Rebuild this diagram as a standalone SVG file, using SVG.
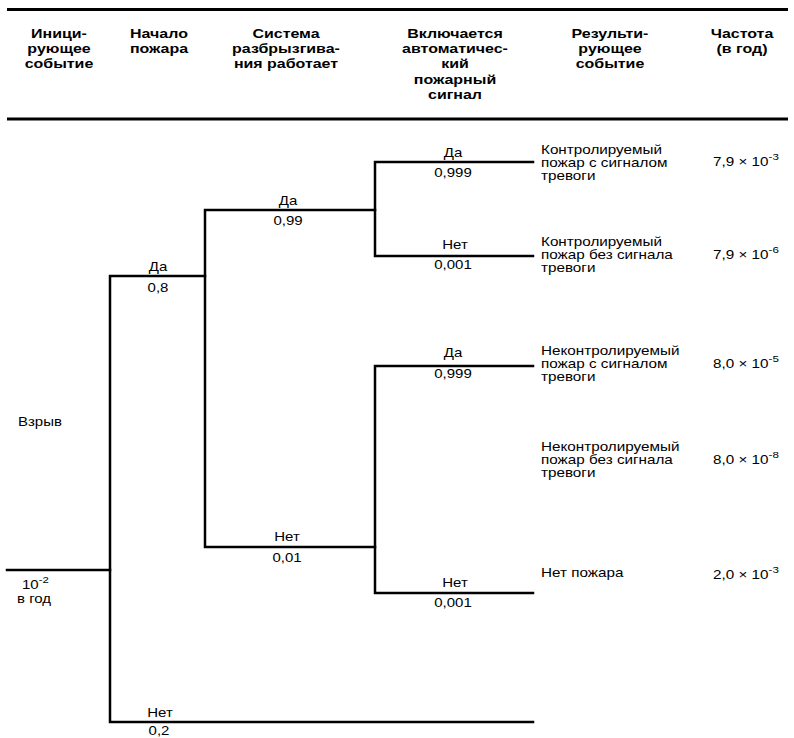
<svg xmlns="http://www.w3.org/2000/svg" width="794" height="738" viewBox="0 0 794 738">
  <style>
    text { font-family: "Liberation Sans", Arial, sans-serif; fill: #000; }
    .h { font-size: 13.3px; font-weight: bold; text-anchor: middle; }
    .t { font-size: 12.5px; }
    .m { text-anchor: middle; }
    .sup { font-size: 9.5px; }
    .rule { stroke: #000; stroke-width: 3; fill: none; }
    .edge { stroke: #000; stroke-width: 2.5; fill: none; stroke-linecap: square; }
  </style>

  <!-- header rules -->
  <g id="header-rules">
    <line class="rule" x1="7" y1="9.5" x2="788" y2="9.5"/>
    <line class="rule" x1="7" y1="119" x2="788" y2="119"/>
  </g>

  <!-- column headings -->
  <g id="headings">
    <text class="h" transform="translate(59 37.5) scale(1.2 1)"><tspan x="0" y="0">Иници-</tspan><tspan x="0" dy="15.5">рующее</tspan><tspan x="0" dy="15.5">событие</tspan></text>
    <text class="h" transform="translate(159 37.5) scale(1.2 1)"><tspan x="0" y="0">Начало</tspan><tspan x="0" dy="15.5">пожара</tspan></text>
    <text class="h" transform="translate(286 37.5) scale(1.2 1)"><tspan x="0" y="0">Система</tspan><tspan x="0" dy="15.5">разбрызгива-</tspan><tspan x="0" dy="15.5">ния работает</tspan></text>
    <text class="h" transform="translate(455 37.5) scale(1.2 1)"><tspan x="0" y="0">Включается</tspan><tspan x="0" dy="15.5">автоматичес-</tspan><tspan x="0" dy="15.5">кий</tspan><tspan x="0" dy="15.5">пожарный</tspan><tspan x="0" dy="15.5">сигнал</tspan></text>
    <text class="h" transform="translate(610 37.5) scale(1.2 1)"><tspan x="0" y="0">Результи-</tspan><tspan x="0" dy="15.5">рующее</tspan><tspan x="0" dy="15.5">событие</tspan></text>
    <text class="h" transform="translate(742 37.5) scale(1.2 1)"><tspan x="0" y="0">Частота</tspan><tspan x="0" dy="15.5">(в год)</tspan></text>
  </g>

  <!-- tree branches -->
  <g id="connectors">
    <path class="edge" d="M7 570 H110"/>
    <path class="edge" d="M205 276 H110 V722 H533"/>
    <path class="edge" d="M375 210 H205 V547 H375"/>
    <path class="edge" d="M533 162 H375 V256 H533"/>
    <path class="edge" d="M533 366 H375 V593 H533"/>
  </g>

  <!-- initiating event -->
  <g id="initiator">
    <text class="t" transform="translate(18 426) scale(1.2 1)">Взрыв</text>
    <text class="t" transform="translate(22 589) scale(1.2 1)">10<tspan class="sup" dy="-6">-2</tspan></text>
    <text class="t" transform="translate(17 603) scale(1.2 1)">в год</text>
  </g>

  <!-- branch probabilities -->
  <g id="fire-yes">
    <text class="t m" transform="translate(158 271) scale(1.2 1)">Да</text>
    <text class="t m" transform="translate(158 292) scale(1.2 1)">0,8</text>
  </g>
  <g id="fire-no">
    <text class="t m" transform="translate(160 717) scale(1.2 1)">Нет</text>
    <text class="t m" transform="translate(159 735) scale(1.2 1)">0,2</text>
  </g>
  <g id="sprinkler-yes">
    <text class="t m" transform="translate(288 205) scale(1.2 1)">Да</text>
    <text class="t m" transform="translate(288 225) scale(1.2 1)">0,99</text>
  </g>
  <g id="sprinkler-no">
    <text class="t m" transform="translate(287 541) scale(1.2 1)">Нет</text>
    <text class="t m" transform="translate(287 562) scale(1.2 1)">0,01</text>
  </g>
  <g id="alarm-1-yes">
    <text class="t m" transform="translate(453 157) scale(1.2 1)">Да</text>
    <text class="t m" transform="translate(453 177) scale(1.2 1)">0,999</text>
  </g>
  <g id="alarm-1-no">
    <text class="t m" transform="translate(455 249) scale(1.2 1)">Нет</text>
    <text class="t m" transform="translate(453 269) scale(1.2 1)">0,001</text>
  </g>
  <g id="alarm-2-yes">
    <text class="t m" transform="translate(453 357) scale(1.2 1)">Да</text>
    <text class="t m" transform="translate(453 378) scale(1.2 1)">0,999</text>
  </g>
  <g id="alarm-2-no">
    <text class="t m" transform="translate(455 587) scale(1.2 1)">Нет</text>
    <text class="t m" transform="translate(453 607) scale(1.2 1)">0,001</text>
  </g>

  <!-- outcomes -->
  <g id="outcome-1">
    <text class="t" transform="translate(541 154) scale(1.22 1)"><tspan x="0" y="0">Контролируемый</tspan><tspan x="0" dy="13">пожар с сигналом</tspan><tspan x="0" dy="13">тревоги</tspan></text>
  </g>
  <g id="outcome-2">
    <text class="t" transform="translate(541 246) scale(1.22 1)"><tspan x="0" y="0">Контролируемый</tspan><tspan x="0" dy="13">пожар без сигнала</tspan><tspan x="0" dy="13">тревоги</tspan></text>
  </g>
  <g id="outcome-3">
    <text class="t" transform="translate(541 355) scale(1.22 1)"><tspan x="0" y="0">Неконтролируемый</tspan><tspan x="0" dy="13">пожар с сигналом</tspan><tspan x="0" dy="13">тревоги</tspan></text>
  </g>
  <g id="outcome-4">
    <text class="t" transform="translate(541 451) scale(1.22 1)"><tspan x="0" y="0">Неконтролируемый</tspan><tspan x="0" dy="13">пожар без сигнала</tspan><tspan x="0" dy="13">тревоги</tspan></text>
  </g>
  <g id="outcome-5">
    <text class="t" transform="translate(541 577) scale(1.22 1)">Нет пожара</text>
  </g>

  <!-- frequencies -->
  <g id="frequencies">
    <text class="t" transform="translate(713 166) scale(1.22 1)">7,9 × 10<tspan class="sup" dy="-6">-3</tspan></text>
    <text class="t" transform="translate(713 259) scale(1.22 1)">7,9 × 10<tspan class="sup" dy="-6">-6</tspan></text>
    <text class="t" transform="translate(713 368) scale(1.22 1)">8,0 × 10<tspan class="sup" dy="-6">-5</tspan></text>
    <text class="t" transform="translate(713 464) scale(1.22 1)">8,0 × 10<tspan class="sup" dy="-6">-8</tspan></text>
    <text class="t" transform="translate(713 579) scale(1.22 1)">2,0 × 10<tspan class="sup" dy="-6">-3</tspan></text>
  </g>
</svg>
